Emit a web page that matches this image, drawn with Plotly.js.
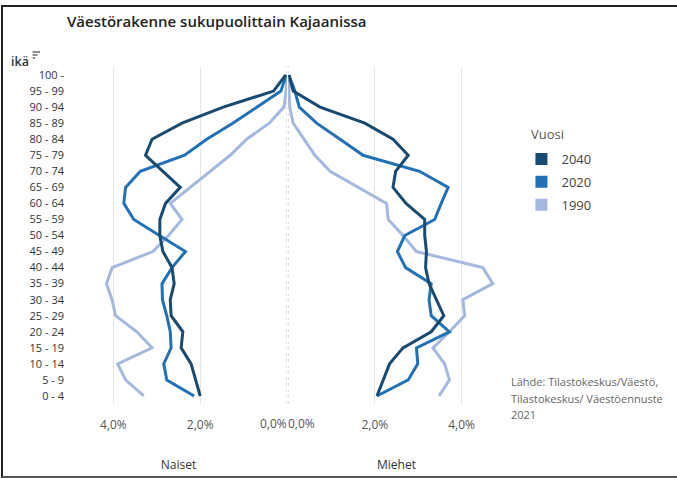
<!DOCTYPE html>
<html>
<head>
<meta charset="utf-8">
<script src="https://cdn.plot.ly/plotly-3.0.1.min.js"></script>
<style>
  body { margin: 0; background: #fff; }
  #wrap { position: relative; width: 677px; height: 478px; }
  #frame { position: absolute; left: 1px; top: 5px; width: 676px; height: 469px;
    border-top: 2px solid #222; border-left: 2px solid #222; border-bottom: 2px solid #555;
    pointer-events: none; }
</style>
</head>
<body>
<div id="wrap">
  <div id="chart"></div>
  <div id="frame"></div>
</div>
<script>
// age groups, bottom to top
const ages = ['0 - 4', '5 - 9', '10 - 14', '15 - 19', '20 - 24', '25 - 29', '30 - 34', '35 - 39',
  '40 - 44', '45 - 49', '50 - 54', '55 - 59', '60 - 64', '65 - 69', '70 - 74', '75 - 79',
  '80 - 84', '85 - 89', '90 - 94', '95 - 99', '100 -'];

const years = ['2040', '2020', '1990'];
const colors = ['#1a4a6f', '#2271b6', '#a5b8df'];

// share of population, % (women)
const naiset2040 = [2.00, 2.11, 2.21, 2.44, 2.40, 2.67, 2.69, 2.60, 2.65, 2.86, 2.93, 2.93, 2.80, 2.46, 2.85, 3.26, 3.11, 2.42, 1.47, 0.31, 0.03];
const naiset2020 = [2.14, 2.77, 2.84, 2.67, 2.69, 2.77, 2.87, 2.88, 2.65, 2.34, 2.94, 3.53, 3.76, 3.72, 3.38, 2.36, 1.85, 1.25, 0.69, 0.14, 0.02];
const naiset1990 = [3.30, 3.72, 3.90, 3.11, 3.46, 3.95, 4.03, 4.16, 4.03, 3.09, 2.73, 2.42, 2.69, 2.23, 1.79, 1.31, 0.93, 0.41, 0.07, 0.02, 0.01];

// share of population, % (men)
const miehet2040 = [2.05, 2.19, 2.34, 2.65, 3.30, 3.59, 3.42, 3.25, 3.17, 3.19, 3.15, 3.15, 2.72, 2.42, 2.48, 2.77, 2.42, 1.77, 0.74, 0.12, 0.02];
const miehet2020 = [2.05, 2.77, 2.99, 2.96, 3.72, 3.30, 3.25, 3.30, 2.71, 2.52, 2.69, 3.38, 3.53, 3.69, 3.03, 1.73, 1.20, 0.66, 0.26, 0.16, 0.02];
const miehet1990 = [3.48, 3.72, 3.61, 3.34, 3.72, 4.07, 4.03, 4.72, 4.49, 2.96, 2.65, 2.31, 2.27, 1.62, 0.97, 0.62, 0.37, 0.12, 0.04, 0.02, 0.01];

const tickVals = [2, 4];
const tickText = ['2,0%', '4,0%'];
const sourceLines = ['Lähde: Tilastokeskus/Väestö,', 'Tilastokeskus/ Väestöennuste', '2021'];

const naiset = [naiset2040, naiset2020, naiset1990];
const miehet = [miehet2040, miehet2020, miehet1990];

const font = 'Open Sans, Noto Sans, sans-serif';
const traces = [];

// draw 1990 first so 2040 ends up on top
for (let i = years.length - 1; i >= 0; i--) {
  traces.push({
    x: naiset[i], y: ages, xaxis: 'x', yaxis: 'y',
    type: 'scatter', mode: 'lines', name: years[i],
    line: { color: colors[i], width: 3 },
    showlegend: false, hoverinfo: 'x+y'
  });
  traces.push({
    x: miehet[i], y: ages, xaxis: 'x2', yaxis: 'y',
    type: 'scatter', mode: 'lines', name: years[i],
    line: { color: colors[i], width: 3 },
    showlegend: false, hoverinfo: 'x+y'
  });
}

// legend swatches
years.forEach((yr, i) => {
  traces.push({
    x: [null], y: [null], xaxis: 'x2', yaxis: 'y',
    type: 'scatter', mode: 'markers', name: yr, legendgroup: yr,
    marker: { symbol: 'square', size: 15, color: colors[i] },
    hoverinfo: 'skip'
  });
});

const axisBase = {
  tickvals: tickVals,
  ticktext: tickText,
  showgrid: true,
  gridcolor: '#e6e6e6',
  gridwidth: 1,
  zeroline: false,
  showline: false,
  ticks: 'outside',
  ticklen: 10,
  tickcolor: 'rgba(0,0,0,0)',
  tickfont: { family: font, size: 12, color: '#555' },
  fixedrange: true
};

const annotations = [
  { text: 'ikä', xref: 'paper', yref: 'paper', x: -0.141, y: 1.0178, xanchor: 'left', yanchor: 'middle',
    showarrow: false, font: { family: font, size: 12.5, color: '#333', weight: 600 } },
  { text: 'Vuosi', xref: 'paper', yref: 'paper', x: 1.0562, y: 0.801, xanchor: 'left', yanchor: 'middle',
    showarrow: false, font: { family: font, size: 13, color: '#555' } },
  { text: '0,0%', xref: 'x', yref: 'paper', x: 0, y: 0, xanchor: 'right', yanchor: 'middle', xshift: 2, yshift: -19,
    showarrow: false, font: { family: font, size: 12, color: '#555' } },
  { text: '0,0%', xref: 'x2', yref: 'paper', x: 0, y: 0, xanchor: 'left', yanchor: 'middle', xshift: -2, yshift: -19,
    showarrow: false, font: { family: font, size: 12, color: '#555' } }
];

sourceLines.forEach((t, k) => {
  annotations.push({
    text: t, xref: 'paper', yref: 'paper', x: 1.0103, y: (404 - 381 - 17 * k) / 337,
    xanchor: 'left', yanchor: 'middle', showarrow: false,
    font: { family: font, size: 11, color: '#666' }
  });
});

const layout = {
  width: 677,
  height: 478,
  margin: { l: 69.5, r: 171.5, t: 67, b: 74 },
  paper_bgcolor: '#fff',
  plot_bgcolor: '#fff',
  font: { family: font, color: '#333' },
  title: {
    text: 'Väestörakenne sukupuolittain Kajaanissa',
    x: 67 / 677, xanchor: 'left', xref: 'container',
    y: 1 - 22 / 478, yanchor: 'middle', yref: 'container',
    font: { family: font, size: 15, color: '#222', weight: 600 }
  },
  xaxis: {
    ...axisBase,
    domain: [0, 0.4989],
    range: [5, 0],
    anchor: 'y',
    title: { text: 'Naiset', standoff: 28, font: { family: font, size: 12, color: '#333' } }
  },
  xaxis2: {
    ...axisBase,
    domain: [0.5011, 1],
    range: [0, 5],
    anchor: 'y',
    title: { text: 'Miehet', standoff: 28, font: { family: font, size: 12, color: '#333' } }
  },
  yaxis: {
    type: 'category',
    categoryarray: ages,
    categoryorder: 'array',
    range: [-0.5, 20.5],
    anchor: 'x',
    showgrid: false,
    zeroline: false,
    showline: false,
    ticks: '',
    ticklabelstandoff: 5,
    tickfont: { family: font, size: 11, color: '#333' },
    fixedrange: true
  },
  shapes: [
    { type: 'line', xref: 'x', yref: 'paper', x0: 0, x1: 0, y0: 0, y1: 1,
      line: { color: '#bbb', width: 1, dash: 'dot' } },
    { type: 'line', xref: 'x2', yref: 'paper', x0: 0, x1: 0, y0: 0, y1: 1,
      line: { color: '#bbb', width: 1, dash: 'dot' } },
    // sort icon next to "ikä"
    { type: 'line', xref: 'paper', yref: 'paper', x0: -0.086, x1: -0.0688, y0: 1.0445, y1: 1.0445,
      line: { color: '#666', width: 1.5 } },
    { type: 'line', xref: 'paper', yref: 'paper', x0: -0.086, x1: -0.0745, y0: 1.0356, y1: 1.0356,
      line: { color: '#666', width: 1.5 } },
    { type: 'line', xref: 'paper', yref: 'paper', x0: -0.086, x1: -0.0803, y0: 1.0267, y1: 1.0267,
      line: { color: '#666', width: 1.5 } }
  ],
  annotations: annotations,
  legend: {
    x: 1.0378, y: 0.7715, xanchor: 'left', yanchor: 'top',
    font: { family: font, size: 13, color: '#444' },
    itemsizing: 'constant',
    traceorder: 'grouped',
    tracegroupgap: 3,
    bgcolor: 'rgba(0,0,0,0)'
  },
  hovermode: 'closest'
};

Plotly.newPlot('chart', traces, layout, { displayModeBar: false, staticPlot: true });
</script>
</body>
</html>
